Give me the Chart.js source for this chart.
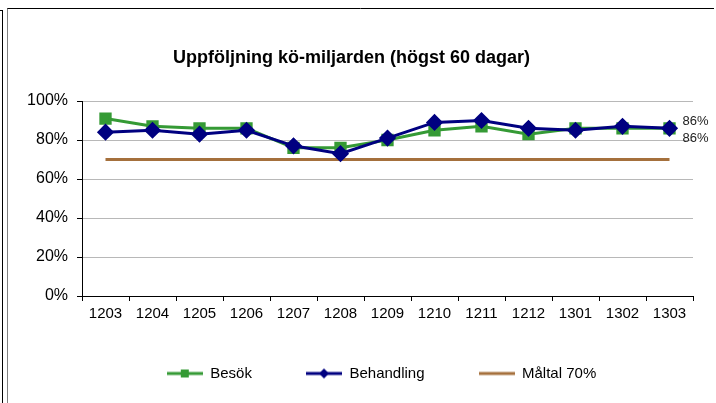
<!DOCTYPE html>
<html>
<head>
<meta charset="utf-8">
<script src="https://cdn.jsdelivr.net/npm/chart.js@4.4.0/dist/chart.umd.min.js"></script>
<style>
  html, body { margin: 0; padding: 0; background: #fff; }
  canvas { display: block; }
</style>
</head>
<body>
<canvas id="koChart" width="716" height="403"></canvas>
<script>
// data
var months = ['1203', '1204', '1205', '1206', '1207', '1208', '1209', '1210', '1211', '1212', '1301', '1302', '1303'];
var besok = [91, 87, 86, 86, 76, 76, 80, 85, 87, 83, 86, 86, 86];
var behandling = [84, 85, 83, 85, 77, 73, 81, 89, 90, 86, 85, 87, 86];
var maltal = [70, 70, 70, 70, 70, 70, 70, 70, 70, 70, 70, 70, 70];
var yTicks = [0, 20, 40, 60, 80, 100];

var GREEN = '#359a35';
var NAVY = '#000080';
var BROWN = '#a5703c';

Chart.defaults.font.family = '"Liberation Sans", Arial, sans-serif';
Chart.defaults.font.size = 15;
Chart.defaults.color = '#000';

// small pictures for the legend: line with marker in the middle
function legendIcon(color, marker) {
    var c = document.createElement('canvas');
    c.width = 36; c.height = 12;
    var g = c.getContext('2d');
    g.strokeStyle = color;
    g.lineWidth = 3;
    g.beginPath(); g.moveTo(0, 6); g.lineTo(36, 6); g.stroke();
    g.fillStyle = color;
    if (marker === 'square') {
        g.fillRect(14, 2, 8, 8);
    } else if (marker === 'diamond') {
        g.beginPath();
        g.moveTo(18, 1); g.lineTo(23, 6); g.lineTo(18, 11); g.lineTo(13, 6);
        g.closePath(); g.fill();
    }
    return c;
}

var framePlugin = {
    id: 'frame',
    beforeDraw: function (chart) {
        var ctx = chart.ctx;
        ctx.save();
        ctx.fillStyle = '#fff';
        ctx.fillRect(0, 0, chart.width, chart.height);
        ctx.lineWidth = 1;
        ctx.strokeStyle = '#000';
        ctx.beginPath();
        ctx.moveTo(0, 10.5); ctx.lineTo(3, 10.5);
        ctx.moveTo(2.5, 10.5); ctx.lineTo(2.5, chart.height);
        ctx.moveTo(7, 8.5); ctx.lineTo(714, 8.5);
        ctx.stroke();
        ctx.strokeStyle = '#808080';
        ctx.beginPath();
        ctx.moveTo(7.5, 8.5); ctx.lineTo(7.5, chart.height);
        ctx.stroke();
        ctx.restore();
    },
    afterLayout: function (chart) {
        // nudge legend and title like the original
        chart.legend.left += 25; chart.legend.right += 25;
        chart.legend.top -= 12; chart.legend.bottom -= 12;
        chart.titleBlock.left -= 5; chart.titleBlock.right -= 5;
    }
};

var endLabels = {
    id: 'endLabels',
    afterDatasetsDraw: function (chart) {
        var ctx = chart.ctx;
        ctx.save();
        ctx.font = '13px "Liberation Sans", Arial, sans-serif';
        ctx.fillStyle = '#222';
        ctx.textBaseline = 'middle';
        [[0, -7], [1, 10]].forEach(function (d) {
            var meta = chart.getDatasetMeta(d[0]);
            var pt = meta.data[meta.data.length - 1];
            var v = chart.data.datasets[d[0]].data[meta.data.length - 1];
            ctx.fillText(v + '%', pt.x + 13, pt.y + d[1]);
        });
        ctx.restore();
    }
};

var ctx = document.getElementById('koChart').getContext('2d');
var koChart = new Chart(ctx, {
    type: 'line',
    data: {
        labels: months,
        datasets: [{
            label: 'Besök',
            data: besok,
            borderColor: GREEN,
            backgroundColor: GREEN,
            borderWidth: 3,
            pointStyle: 'rect',
            pointRadius: 6.6,
            pointHoverRadius: 6.6,
            order: 1
        }, {
            label: 'Behandling',
            data: behandling,
            borderColor: NAVY,
            backgroundColor: NAVY,
            borderWidth: 3,
            pointStyle: 'rectRot',
            pointRadius: 6.5,
            pointHoverRadius: 6.5,
            order: 0
        }, {
            label: 'Måltal 70%',
            data: maltal,
            borderColor: BROWN,
            backgroundColor: BROWN,
            borderWidth: 3,
            pointRadius: 0,
            order: 2
        }]
    },
    options: {
        responsive: false,
        animation: false,
        events: [],
        layout: { padding: { left: 20, right: 23, top: 0, bottom: 0 } },
        plugins: {
            title: {
                display: true,
                text: 'Uppföljning kö-miljarden (högst 60 dagar)',
                font: { size: 18, weight: 'bold' },
                color: '#000',
                padding: { top: 47, bottom: 32.4 }
            },
            legend: {
                position: 'bottom',
                labels: {
                    usePointStyle: true,
                    pointStyleWidth: 36,
                    padding: 54,
                    font: { size: 15 },
                    generateLabels: function (chart) {
                        var icons = [legendIcon(GREEN, 'square'), legendIcon(NAVY, 'diamond'), legendIcon(BROWN, null)];
                        return chart.data.datasets.map(function (ds, i) {
                            return {
                                text: ds.label,
                                pointStyle: icons[i],
                                fillStyle: ds.borderColor,
                                strokeStyle: ds.borderColor,
                                lineWidth: 0,
                                hidden: false,
                                datasetIndex: i,
                                fontColor: '#000'
                            };
                        });
                    }
                }
            },
            tooltip: { enabled: false }
        },
        scales: {
            x: {
                offset: true,
                grid: {
                    offset: true,
                    drawOnChartArea: false,
                    tickLength: 5,
                    tickColor: '#000'
                },
                border: { color: '#000', width: 1 },
                ticks: { padding: 4, maxRotation: 0, autoSkip: false, font: { size: 15 } },
                afterFit: function (scale) { scale.height = 28; }
            },
            y: {
                min: 0,
                max: 100,
                afterBuildTicks: function (scale) {
                    scale.ticks = yTicks.map(function (v) { return { value: v }; });
                },
                grid: {
                    color: '#b8b8b8',
                    tickLength: 5,
                    tickColor: '#000'
                },
                border: { color: '#000', width: 1 },
                ticks: {
                    padding: 9,
                    font: { size: 16 },
                    callback: function (v) { return v + '%'; }
                },
                afterFit: function (scale) { scale.width = 62; }
            }
        }
    },
    plugins: [framePlugin, endLabels]
});
</script>
</body>
</html>
